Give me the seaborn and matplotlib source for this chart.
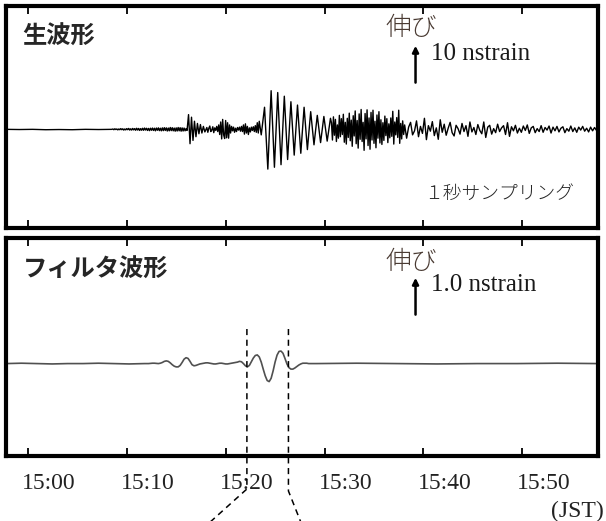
import matplotlib
matplotlib.use("Agg")
import matplotlib.pyplot as plt
import matplotlib.transforms as mtransforms
import numpy as np
import pandas as pd
import seaborn as sns

# x axis = minutes after 15:00 JST, y = strain in nstrain

# raw (1 s sampling) trace
raw_quiet_span = (-2.2, 8.5)
raw_quiet = [0.0, -0.05, 0.0, -0.1, -0.05, -0.1, 0.0, -0.05, 0.0]

raw_noise_span = (8.6, 16.0)
raw_noise = [
    0.1, -0.1, 0.15, -0.05, 0.1, -0.15, 0.1, -0.1, 0.2, -0.1,
    0.15, -0.2, 0.1, -0.15, 0.2, -0.1, 0.25, -0.2, 0.15, -0.2,
    0.25, -0.15, 0.2, -0.25, 0.3, -0.2, 0.25, -0.3, 0.2, -0.25,
    0.3, -0.25, 0.35, -0.2, 0.3, -0.3, 0.25, -0.35, 0.3, -0.25,
    0.35, -0.3, 0.3, -0.4, 0.35, -0.25, 0.4, -0.35, 0.3, -0.4,
    0.4, -0.35, 0.45, -0.3, 0.4, -0.45, 0.35, -0.4, 0.5, -0.35,
    0.45, -0.4, 0.35, -0.5, 0.4, -0.45, 0.5, -0.4, 0.45, -0.5,
    0.4, -0.45, 0.35, -0.4, 0.2,
]

raw_p_span = (16.1, 17.9)
raw_p = [-0.3, 4.0, -3.9, 3.3, -3.0, 2.2, -2.0, 1.6, -1.2, 1.3, -1.0, 0.8, -0.7]

raw_pcoda_span = (18.1, 23.4)
raw_pcoda = [
    0.5, -0.8, 0.3, 0.9, -0.6, -0.2, 0.7, -0.9, 0.4, -0.3,
    0.8, -0.6, 1.2, -1.4, 2.0, -2.6, 2.7, -1.5, -2.5, 2.4,
    -2.3, 1.8, -2.4, 1.2, -1.0, 0.8, -0.4, 0.6, -0.8, 0.3,
    -0.6, 0.5, -0.2, 0.6, -0.5, 0.8, -0.6, 1.2, -1.3, 1.5,
    -1.0, 0.8, -1.4, 0.4, -0.7, 0.6, -0.3, 0.7, -0.6, 1.0,
    -0.8, 1.8, -1.0, 2.2,
]

raw_s_span = (23.6, 30.6)
raw_s = [-1.5, 6.0, -10.8, 10.5, -10.3, 10.0, -9.6, 9.0, -8.2, 7.5,
         -7.0, 6.6, -6.5, 6.0, -5.5, 4.8, -4.2, 3.8, -3.6, 3.5,
         -3.2, 3.0]

raw_coda_span = (30.7, 38.0)
raw_coda = [
    1.8, -2.9, 3.4, -1.6, 2.7, -3.3, 1.2, -2.4, 3.8, -2.0,
    2.9, -1.4, 4.1, -3.5, 1.9, -4.0, 3.0, -2.2, 4.4, -3.1,
    2.5, -4.6, 3.7, -1.8, 5.0, -3.9, 2.4, -5.1, 4.2, -2.7,
    5.4, -3.3, 1.9, -5.7, 4.3, -2.6, 5.3, -4.4, 3.1, -5.4,
    4.6, -2.9, 5.2, -3.8, 2.2, -5.0, 3.9, -2.4, 4.8, -3.7,
    2.6, -4.1, 1.8, -3.0, 3.6, -1.7, 2.9, -3.6, 1.5, -2.3,
    3.1, -1.9, 4.9, -4.0, 2.0, -1.5, 3.2, -2.2, 5.2, -3.8,
    1.6, -2.6, 2.3, -1.4,
]

raw_tail_span = (38.1, 57.5)
raw_tail = [
    1.2, -2.4, 0.6, 1.9, -1.5, -0.4, 2.3, -2.0, 0.8, -1.1,
    3.0, -2.8, 1.0, -0.5, 2.1, -1.7, 0.4, -2.7, 2.6, -0.8,
    1.4, -1.6, 0.3, 1.9, -0.9, -1.8, 1.1, 0.2, -1.3, 1.6,
    -0.6, 1.0, -1.9, 2.0, -0.7, 0.5, -1.4, 1.3, -0.3, -1.2,
    2.0, -2.2, 0.6, 1.1, -1.3, 0.2, -0.9, 1.4, -0.6, 0.4,
    1.0, -1.4, 1.8, -1.9, 0.7, -0.4, 1.1, -1.0, 0.3, -0.8,
    0.9, -0.3, 1.2, -1.1, 0.4, 0.8, -0.9, 0.2, -0.6, 1.0,
    -0.8, 0.5, -0.2, 0.9, -1.0, 0.6, -0.4, 0.8, -0.7, 0.3,
    0.7, -0.9, 0.2, -0.5, 0.9, -0.6, 0.4, -0.8, 0.6, -0.2,
    0.8, -0.5, 0.3, -0.7, 0.6, -0.4, 0.5, -0.3,
]

# filtered trace
filt_pre_span = (-2.2, 11.8)
filt_pre = [0.0, 0.01, 0.0, -0.01, 0.0, 0.0, 0.01, 0.0, -0.01, 0.0]

filt_event_span = (12.0, 29.0)  # 0.2 min steps
filt_event = [
    0.0, 0.0, 0.005, 0.01, 0.01, 0.005, 0.0, 0.01, 0.03, 0.06,
    0.073, 0.06, 0.02, -0.03, -0.07, -0.09, -0.09, -0.05, 0.03, 0.12,
    0.16, 0.14, 0.06, -0.03, -0.06, -0.05, -0.03, -0.01, 0.0, 0.01,
    0.02, 0.02, 0.01, 0.0, -0.01, -0.01, 0.0, 0.01, 0.01, 0.0,
    -0.01, -0.01, 0.0, 0.01, 0.02, 0.03, 0.04, 0.06, 0.05, 0.0,
    -0.06, -0.09, -0.05, 0.05, 0.15, 0.22, 0.235, 0.18, 0.04, -0.15,
    -0.33, -0.46, -0.49, -0.40, -0.20, 0.04, 0.23, 0.33, 0.34, 0.28,
    0.14, -0.01, -0.11, -0.15, -0.15, -0.12, -0.08, -0.04, -0.01, 0.01,
    0.01, 0.01, 0.0, 0.0, 0.0, 0.0,
]

filt_post_span = (29.2, 57.6)
filt_post = [0.0, 0.01, 0.0, -0.01, 0.0, 0.0, 0.01, 0.0]

tick_minutes = [0, 10, 20, 30, 40, 50]
tick_labels = ["15:00", "15:10", "15:20", "15:30", "15:40", "15:50"]

# window marked by the dashed lines (minutes)
window_start, window_end = 22.15, 26.35

raw_scale = 10    # nstrain
filt_scale = 1.0  # nstrain


def build(pieces):
    frames = []
    for span, vals in pieces:
        frames.append(pd.DataFrame({"minute": np.linspace(span[0], span[1], len(vals)),
                                    "strain": vals}))
    return pd.concat(frames, ignore_index=True)


raw_df = build([(raw_quiet_span, raw_quiet), (raw_noise_span, raw_noise),
                (raw_p_span, raw_p), (raw_pcoda_span, raw_pcoda),
                (raw_s_span, raw_s), (raw_coda_span, raw_coda),
                (raw_tail_span, raw_tail)])
filt_df = build([(filt_pre_span, filt_pre), (filt_event_span, filt_event),
                 (filt_post_span, filt_post)])

sns.set_theme(style="white")
plt.rcParams["font.family"] = ["Liberation Serif", "Noto Sans CJK JP"]
JP = ["Noto Sans CJK JP", "DejaVu Sans"]

fig = plt.figure(figsize=(6.06, 5.21), dpi=100)
ax_raw = fig.add_axes([0.010, 0.5624, 0.976, 0.426])
ax_filt = fig.add_axes([0.010, 0.1248, 0.976, 0.4183])

sns.lineplot(data=raw_df, x="minute", y="strain", ax=ax_raw, color="black",
             linewidth=1.0, sort=False, estimator=None)
sns.lineplot(data=filt_df, x="minute", y="strain", ax=ax_filt, color="#505050",
             linewidth=1.2, sort=False, estimator=None)

ax_raw.set_ylim(-26.8, 33.5)
ax_filt.set_ylim(-2.51, 3.41)

for ax in (ax_raw, ax_filt):
    ax.set_xlim(-2.2, 57.6)
    ax.set_xticks(tick_minutes)
    ax.set_yticks([])
    ax.set_xlabel("")
    ax.set_ylabel("")
    for sp in ax.spines.values():
        sp.set_linewidth(3)
        sp.set_color("black")
    ax.tick_params(axis="x", direction="in", top=True, bottom=True, length=6,
                   width=1.3, color="black", labelsize=17, pad=12,
                   labelcolor="#222222")

ax_raw.tick_params(axis="x", labelbottom=False)
ax_filt.set_xticklabels(tick_labels)
# the labels sit a little to the right of their ticks in the original
shift = mtransforms.ScaledTranslation(0.21, 0, fig.dpi_scale_trans)
for lab in ax_filt.get_xticklabels():
    lab.set_transform(lab.get_transform() + shift)

# panel titles
ax_raw.text(0.028, 0.861, "生波形", transform=ax_raw.transAxes, family=JP,
            fontsize=17.5, fontweight="bold", va="center", ha="left")
ax_filt.text(0.028, 0.854, "フィルタ波形", transform=ax_filt.transAxes, family=JP,
             fontsize=17.5, fontweight="bold", va="center", ha="left")

# scale bars
for ax, scale, base, label, ytxt, yjp in [
        (ax_raw, raw_scale, 12.7, "10 nstrain", 0.785, 0.900),
        (ax_filt, filt_scale, 1.33, "1.0 nstrain", 0.785, 0.890)]:
    ax.annotate("", xy=(39.2, base + scale), xytext=(39.2, base),
                arrowprops=dict(arrowstyle="-|>", color="black", lw=1.8,
                                mutation_scale=9, shrinkA=0, shrinkB=0))
    ax.text(0.642, yjp, "伸び", transform=ax.transAxes, family=JP, fontsize=18.5,
            fontweight="light", color="#4a3b33", va="center", ha="left")
    ax.text(0.718, ytxt, label, transform=ax.transAxes, family="Liberation Serif",
            fontsize=18, va="center", ha="left", color="#1a1a1a")

ax_raw.text(0.706, 0.152, "１秒サンプリング", transform=ax_raw.transAxes, family=JP,
            fontsize=13.5, fontweight="light", va="center", ha="left")

fig.text(0.997, 1 - 511 / 521, "(JST)", ha="right", va="center",
         family="Liberation Serif", fontsize=17, color="#222222")

# dashed window lines running down out of the panel
tr = mtransforms.blended_transform_factory(ax_filt.transData, fig.transFigure)
ax_filt.plot([window_start, window_start, 18.26], [1 - 329 / 521, 1 - 489 / 521, -0.005],
             transform=tr, color="black", linestyle=(0, (4, 3)), linewidth=1.1,
             clip_on=False)
ax_filt.plot([window_end, window_end, 27.66], [1 - 329 / 521, 1 - 491 / 521, -0.005],
             transform=tr, color="black", linestyle=(0, (4, 3)), linewidth=1.1,
             clip_on=False)

fig.savefig("out.png", dpi=100)
